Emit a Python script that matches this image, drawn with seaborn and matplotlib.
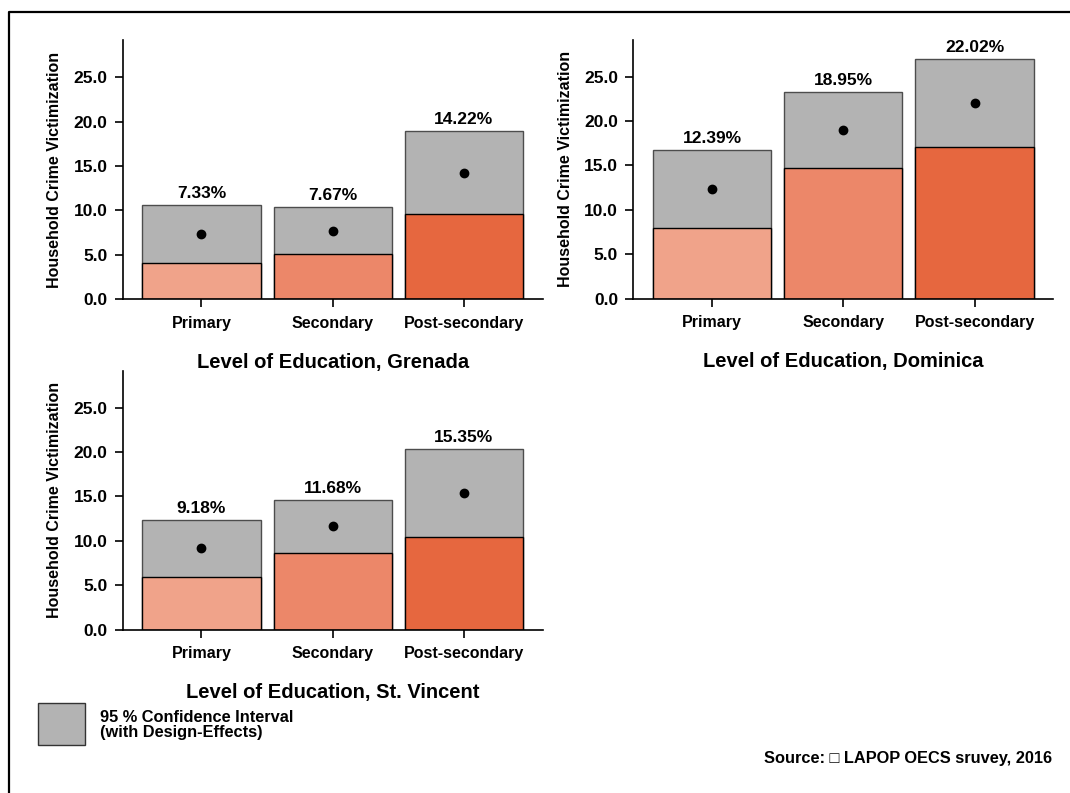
import matplotlib
matplotlib.use("Agg")
import matplotlib.pyplot as plt
from matplotlib.patches import Rectangle
from matplotlib.lines import Line2D
import seaborn as sns
import pandas as pd

# Household crime victimization by level of education (LAPOP OECS 2016)
levels = ["Primary", "Secondary", "Post-secondary"]

grenada_mean = [7.33, 7.67, 14.22]
grenada_low = [4.02, 5.10, 9.53]
grenada_high = [10.59, 10.40, 18.95]

dominica_mean = [12.39, 18.95, 22.02]
dominica_low = [7.95, 14.72, 17.09]
dominica_high = [16.71, 23.23, 27.03]

stvincent_mean = [9.18, 11.68, 15.35]
stvincent_low = [5.88, 8.67, 10.40]
stvincent_high = [12.40, 14.55, 20.36]

bar_colors = ["#F0A38A", "#EC8769", "#E6673F"]
ci_grey = "#B3B3B3"

sns.set_theme(style="ticks")
plt.rcParams["font.family"] = ["Liberation Sans", "DejaVu Sans"]
plt.rcParams["font.weight"] = "bold"
for key in ("text.color", "axes.labelcolor", "xtick.color", "ytick.color",
            "axes.edgecolor"):
    plt.rcParams[key] = "black"

W, H = 1070, 793
fig = plt.figure(figsize=(W / 100, H / 100), dpi=100)


def px_axes(left, top, width=420, height=259):
    return fig.add_axes([left / W, 1 - (top + height) / H, width / W, height / H])


def draw_panel(ax, country, mean, low, high):
    df = pd.DataFrame({"level": levels, "mean": mean, "low": low, "high": high})
    # upper confidence bound (grey) drawn first, lower bound in colour on top
    sns.barplot(data=df, x="level", y="high", color=ci_grey, width=0.9,
                edgecolor="#4d4d4d", linewidth=1.0, saturation=1, ax=ax)
    sns.barplot(data=df, x="level", y="low", hue="level", palette=bar_colors,
                legend=False, width=0.9, edgecolor="black", linewidth=1.0,
                saturation=1, ax=ax)
    sns.pointplot(data=df, x="level", y="mean", color="black", linestyle="none",
                  markers="o", markersize=5, errorbar=None, ax=ax)
    for i, (m, h) in enumerate(zip(mean, high)):
        ax.text(i, h + 0.45, f"{m:.2f}%", ha="center", va="bottom",
                fontsize=12.5, fontweight="bold")
    ax.set_xlim(-0.6, 2.6)
    ax.set_ylim(0, 29.2)
    ax.set_yticks([0, 5, 10, 15, 20, 25])
    ax.set_yticklabels([f"{v:.1f}" for v in [0, 5, 10, 15, 20, 25]])
    ax.set_ylabel("Household Crime Victimization", fontsize=11.5,
                  fontweight="bold", labelpad=8)
    ax.set_xlabel(f"Level of Education, {country}", fontsize=14.5,
                  fontweight="bold", labelpad=16)
    ax.tick_params(axis="y", labelsize=12.5, length=6, width=1.2, pad=5)
    ax.tick_params(axis="x", labelsize=11.5, length=6, width=1.2, pad=6)
    for lab in ax.get_xticklabels() + ax.get_yticklabels():
        lab.set_fontweight("bold")
    for side in ("left", "bottom"):
        ax.spines[side].set_linewidth(1.2)
        ax.spines[side].set_color("black")
    sns.despine(ax=ax)


ax1 = px_axes(122.7, 40)
ax2 = px_axes(633.3, 39.5)
ax3 = px_axes(122.7, 370.5)

draw_panel(ax1, "Grenada", grenada_mean, grenada_low, grenada_high)
draw_panel(ax2, "Dominica", dominica_mean, dominica_low, dominica_high)
draw_panel(ax3, "St. Vincent", stvincent_mean, stvincent_low, stvincent_high)

# legend key for the confidence interval
fig.add_artist(Rectangle((38 / W, 1 - 745 / H), 47 / W, 42 / H,
                         transform=fig.transFigure, facecolor=ci_grey,
                         edgecolor="#333333", linewidth=1.0))
fig.text(100 / W, 1 - 725 / H, "95 % Confidence Interval\n(with Design-Effects)",
         ha="left", va="center", fontsize=11.8, fontweight="bold", linespacing=1.05)

fig.text(1052 / W, 1 - 759 / H, "Source: \u25a1 LAPOP OECS sruvey, 2016",
         ha="right", va="center", fontsize=11.8, fontweight="bold")

# outer frame
fig.add_artist(Line2D([9 / W, 9 / W, 1.0], [0.0, 1 - 12 / H, 1 - 12 / H],
                      transform=fig.transFigure, color="black", linewidth=1.6))

fig.savefig("out.png", dpi=100)
